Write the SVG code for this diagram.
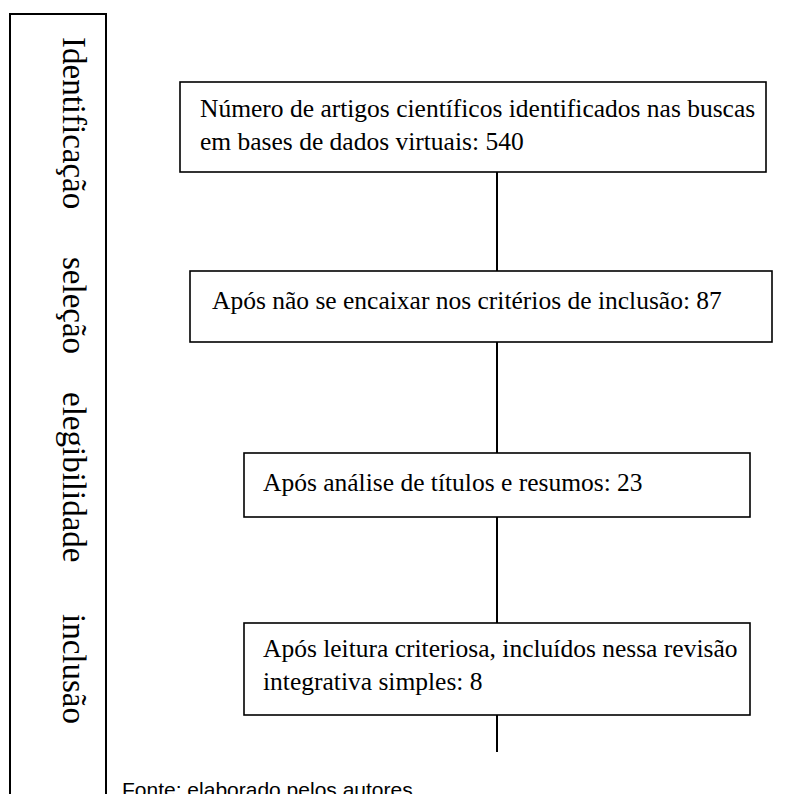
<svg xmlns="http://www.w3.org/2000/svg" width="800" height="794" viewBox="0 0 800 794">
<style>
.box{fill:#fff;stroke:#000;stroke-width:1.6}
.side{fill:#fff;stroke:#000;stroke-width:2}
.t{font-family:"Liberation Serif","Times New Roman",serif;font-size:25.5px;fill:#000}
.lab{font-family:"Liberation Serif","Times New Roman",serif;font-size:33px;fill:#000}
.foot{font-family:"Liberation Sans",Arial,sans-serif;font-size:21px;fill:#000}
.con{stroke:#000;stroke-width:2;fill:none}
</style>
<rect width="800" height="794" fill="#fff"/>
<g id="phases">
<rect class="side" x="10" y="14" width="96" height="800"/>
<text class="lab" transform="translate(63,37) rotate(90)">Identificação</text>
<text class="lab" transform="translate(63,257) rotate(90)">seleção</text>
<text class="lab" transform="translate(63,392) rotate(90)">elegibilidade</text>
<text class="lab" transform="translate(63,614) rotate(90)">inclusão</text>
</g>
<g id="connectors">
<line class="con" x1="497" y1="172" x2="497" y2="271"/>
<line class="con" x1="497" y1="342" x2="497" y2="453"/>
<line class="con" x1="497" y1="517" x2="497" y2="623"/>
<line class="con" x1="497" y1="715" x2="497" y2="752"/>
</g>
<g id="n1">
<rect class="box" x="180" y="82" width="586" height="90"/>
<text class="t" x="200" y="117">Número de artigos científicos identificados nas buscas</text>
<text class="t" x="200" y="150">em bases de dados virtuais: 540</text>
</g>
<g id="n2">
<rect class="box" x="190" y="271" width="582" height="71"/>
<text class="t" x="212" y="309">Após não se encaixar nos critérios de inclusão: 87</text>
</g>
<g id="n3">
<rect class="box" x="244" y="453" width="506" height="64"/>
<text class="t" x="263" y="491">Após análise de títulos e resumos: 23</text>
</g>
<g id="n4">
<rect class="box" x="244" y="623" width="506" height="92"/>
<text class="t" x="263" y="657">Após leitura criteriosa, incluídos nessa revisão</text>
<text class="t" x="263" y="690">integrativa simples: 8</text>
</g>
<text class="foot" x="122" y="797">Fonte: elaborado pelos autores.</text>
</svg>
